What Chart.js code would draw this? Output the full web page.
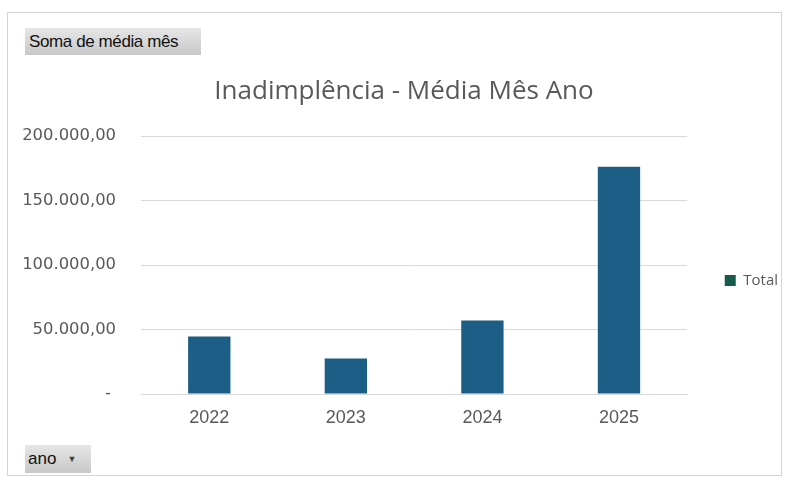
<!DOCTYPE html>
<html>
<head>
<meta charset="utf-8">
<script src="https://cdn.jsdelivr.net/npm/chart.js@4"></script>
<style>
  body { margin: 0; background: #fff; }
  #wrap { position: relative; width: 788px; height: 480px; }
  #frame { position: absolute; left: 7px; top: 12px; width: 775px; height: 464px; border: 1px solid #d4d4d4; box-sizing: border-box; }
  canvas { position: absolute; left: 0; top: 0; }
  .btn { position: absolute; font-family: "Liberation Sans", Arial, sans-serif; color: #111;
         background: linear-gradient(#e6e6e6, #c8c8c8); box-sizing: border-box; }
  #medida { left: 25px; top: 28px; width: 176px; height: 27px; line-height: 27px; padding-left: 4px; font-size: 17px; letter-spacing: -0.4px; }
  #campo { left: 25px; top: 445px; width: 66px; height: 28px; line-height: 28px; padding-left: 3px; font-size: 17px; }
  #campo span { font-size: 9px; color: #444; margin-left: 11px; vertical-align: 2px; }
</style>
</head>
<body>
<div id="wrap">
  <div id="frame"></div>
  <canvas id="grafico" width="788" height="480"></canvas>
  <div class="btn" id="medida">Soma de média mês</div>
  <div class="btn" id="campo">ano<span>▼</span></div>
</div>
<script>
const anos = ["2022", "2023", "2024", "2025"];
const mediaMes = [44600, 27500, 57100, 176300];
const nomeSerie = "Total";
const titulo = "Inadimplência - Média Mês Ano";

const corBarra = "#1d5e86";
const corLegenda = "#175a4c";
const cinza = "#595959";

function formatar(v) {
  if (v === 0) return "- ";
  return v.toLocaleString("pt-BR", { minimumFractionDigits: 2, maximumFractionDigits: 2 });
}

var grafico = new Chart("grafico", {
  type: "bar",
  data: {
    labels: anos,
    datasets: [{
      label: nomeSerie,
      data: mediaMes,
      backgroundColor: corBarra,
      barPercentage: 0.31,
      categoryPercentage: 1
    }]
  },
  options: {
    responsive: false,
    animation: false,
    layout: { padding: { left: 20, right: 0, top: 0, bottom: 36 } },
    plugins: {
      title: {
        display: true,
        text: titulo,
        color: cinza,
        font: { family: "Open Sans", size: 26, weight: "normal" },
        padding: { top: 76, bottom: 29 }
      },
      legend: {
        position: "right",
        align: "center",
        // titulo vazio so para empurrar a legenda para baixo
        title: { display: true, text: " ", font: { size: 14 }, padding: 50 },
        labels: {
          color: cinza,
          font: { family: "Open Sans", size: 15 },
          boxWidth: 11,
          boxHeight: 11,
          padding: 37.5,
          generateLabels: function(chart) {
            return [{ text: nomeSerie, fillStyle: corLegenda, strokeStyle: corLegenda, lineWidth: 0, fontColor: cinza, datasetIndex: 0 }];
          }
        }
      },
      tooltip: { enabled: false }
    },
    scales: {
      x: {
        grid: { display: false, drawTicks: false },
        border: { display: true, color: "#d9d9d9" },
        ticks: { color: cinza, font: { family: "Liberation Sans", size: 18 }, padding: 13 },
        afterFit: function(s) { s.height = 50; }
      },
      y: {
        min: 0,
        max: 200000,
        ticks: {
          stepSize: 50000,
          color: cinza,
          font: { family: "DejaVu Sans", size: 16.4 },
          padding: 25,
          callback: function(v) { return formatar(v); }
        },
        grid: { color: "#d9d9d9", drawTicks: false },
        border: { display: false },
        afterFit: function(s) { s.width = 121; }
      }
    }
  }
});
</script>
</body>
</html>
